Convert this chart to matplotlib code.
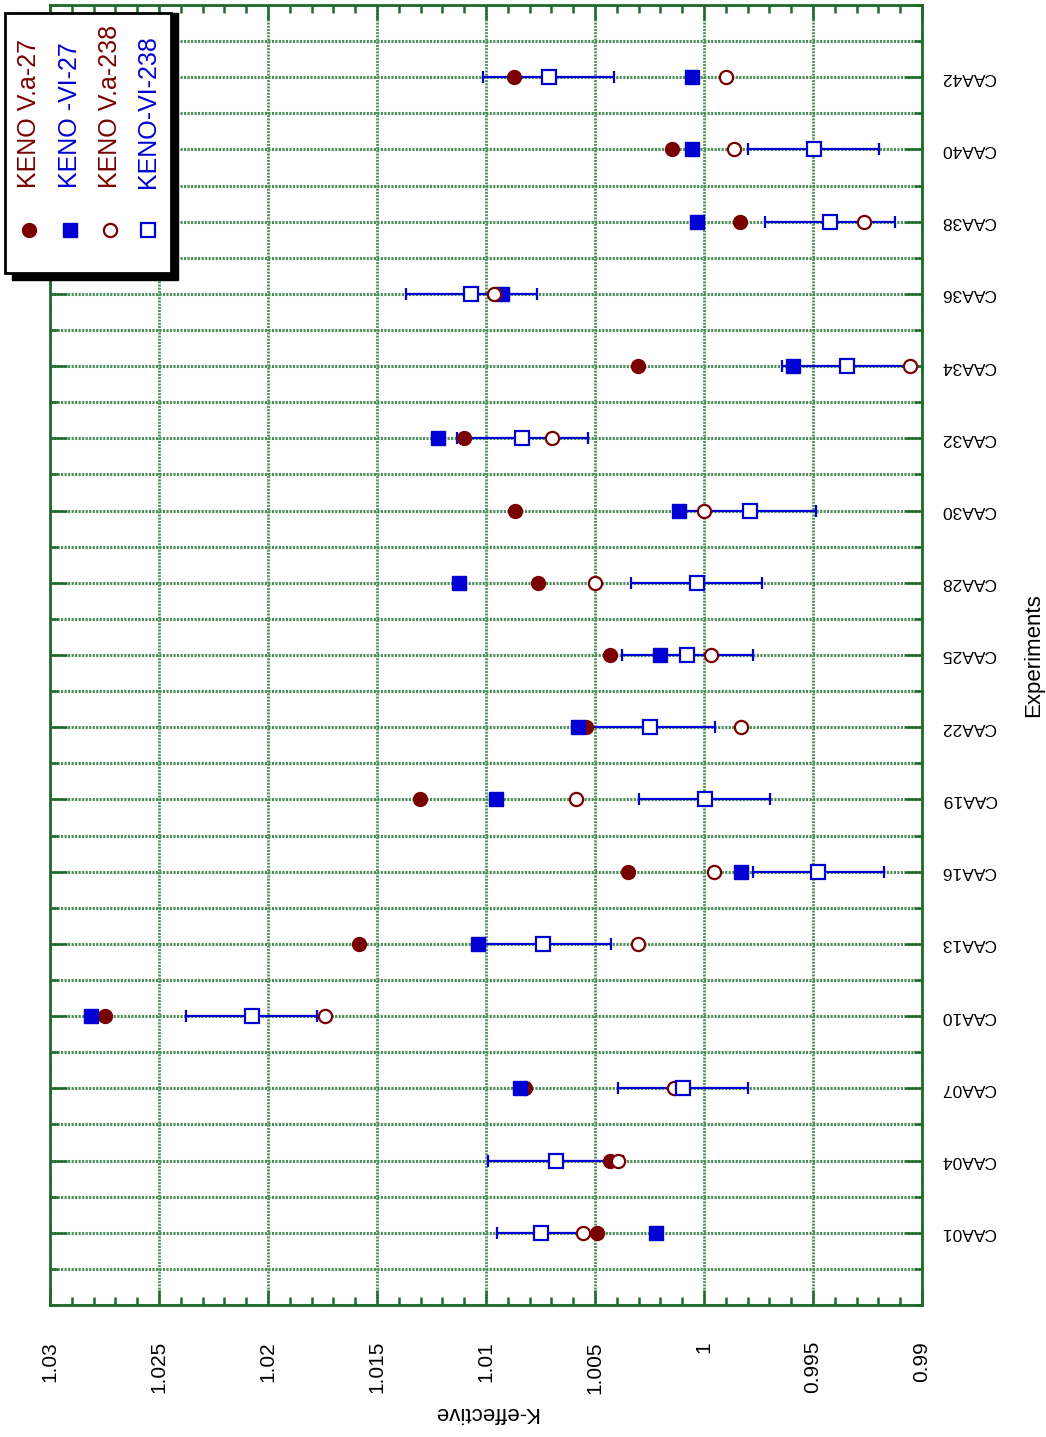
import numpy as np
import matplotlib
matplotlib.use('Agg')
import matplotlib.pyplot as plt
from matplotlib.ticker import MultipleLocator
from matplotlib.patches import Rectangle
from matplotlib.lines import Line2D

plt.rcParams['font.family'] = ['Liberation Sans', 'DejaVu Sans']

# Experiments (bottom to top in the rotated page)
experiments = ['CAA01', 'CAA04', 'CAA07', 'CAA10', 'CAA13', 'CAA16', 'CAA19', 'CAA22', 'CAA25',
               'CAA28', 'CAA30', 'CAA32', 'CAA34', 'CAA36', 'CAA38', 'CAA40', 'CAA42']

# K-effective values
keno5_27 = [1.00492, 1.00429, 1.00823, 1.02747, 1.01584, 1.00347, 1.01301, 1.00540, 1.00430,
            1.00763, 1.00865, 1.01099, 1.00301, 1.00930, 0.99836, 1.00148, 1.00873]
keno6_27 = [1.00220, np.nan, 1.00844, 1.02810, 1.01037, 0.99829, 1.00954, 1.00577, 1.00202,
            1.01126, 1.00113, 1.01219, 0.99594, 1.00928, 1.00030, 1.00055, 1.00055]
keno5_238 = [1.00557, 1.00394, 1.00137, 1.01738, 1.00302, 0.99956, 1.00585, 0.99829, 0.99967,
             1.00500, 1.00000, 1.00696, 0.99057, 1.00964, 0.99264, 0.99863, 0.99899]
keno6_238 = [1.00748, 1.00681, 1.00096, 1.02074, 1.00738, 0.99476, 0.99997, 1.00249, 1.00077,
             1.00033, 0.99788, 1.00833, 0.99344, 1.01068, 0.99422, 0.99496, 1.00713]
keno6_238_err = [0.0020, 0.0031, 0.0030, 0.0030, 0.0031, 0.0030, 0.0030, 0.0030, 0.0030,
                 0.0030, 0.0030, 0.0030, 0.0030, 0.0030, 0.0030, 0.0030, 0.0030]

k_ticks = [1.03, 1.025, 1.02, 1.015, 1.01, 1.005, 1.0, 0.995, 0.99]
k_labels = ['1.03', '1.025', '1.02', '1.015', '1.01', '1.005', '1', '0.995', '0.99']

legend_names = ['KENO V.a-27', 'KENO -VI-27', 'KENO V.a-238', 'KENO-VI-238']

red = '#7a0000'
blue = '#0000d2'
green = '#1f6b2b'
grid_green = '#4a8f57'

W, H = 1046, 1437
fig = plt.figure(figsize=(W / 100, H / 100), dpi=100)
ax = fig.add_axes([50 / W, 1 - 1305 / H, 872 / W, 1300 / H])

y = np.arange(len(experiments))

# error bars of KENO-VI-238
ax.errorbar(keno6_238, y, xerr=keno6_238_err, fmt='none', ecolor=blue, elinewidth=1.6,
            capsize=4.5, capthick=1.6, zorder=3)
ax.plot(keno5_27, y, 'o', ms=10, color=red, mec=red, ls='none', zorder=4)
ax.plot(keno6_27, y, 's', ms=10.5, color=blue, mec=blue, ls='none', zorder=5)
ax.plot(keno5_238, y, 'o', ms=9.5, mfc='white', mec=red, mew=1.6, ls='none', zorder=6)
ax.plot(keno6_238, y, 's', ms=10, mfc='white', mec=blue, mew=1.6, ls='none', zorder=6)

ax.set_xlim(1.03, 0.99)
ax.set_ylim(-1, 17)

ax.set_xticks(k_ticks)
ax.set_xticklabels(k_labels, rotation=90, fontsize=15)
ax.xaxis.set_minor_locator(MultipleLocator(0.001))
ax.set_yticks(y)
ax.set_yticklabels(experiments, rotation=180, fontsize=12.5, va='center')
ax.yaxis.set_minor_locator(MultipleLocator(0.5))

ax.tick_params(axis='both', which='both', direction='in', color=green, width=1.8,
               top=True, bottom=True, left=True, right=True,
               labelleft=False, labelright=True)
ax.tick_params(axis='x', which='major', length=11, pad=26)
ax.tick_params(axis='x', which='minor', length=6)
ax.tick_params(axis='y', which='major', length=12, pad=14)
ax.tick_params(axis='y', which='minor', length=6)

ax.grid(True, axis='x', which='major', color=grid_green, lw=2.0, ls=(0, (0.7, 0.45)), zorder=1)
ax.grid(True, axis='y', which='both', color=grid_green, lw=2.2, ls=(0, (0.7, 0.45)), zorder=1)
ax.set_axisbelow(True)

for s in ax.spines.values():
    s.set_color(green)
    s.set_linewidth(2)

ax.yaxis.set_label_position('right')
ax.set_ylabel('Experiments', fontsize=16, rotation=90, labelpad=19)
ax.set_xlabel('K-effective', fontsize=16, rotation=180, labelpad=6)

# legend, drawn by hand so the entries can be rotated with the page
def fx(px):
    return px / W

def fy(py):
    return 1 - py / H

fig.add_artist(Rectangle((fx(12), fy(280)), fx(166), 267 / H, transform=fig.transFigure,
                         facecolor='black', edgecolor='black', zorder=10))
fig.add_artist(Rectangle((fx(5), fy(273)), fx(166), 260 / H, transform=fig.transFigure,
                         facecolor='white', edgecolor='black', lw=2, zorder=11))

leg_x = [29, 70, 110, 148]
leg_style = [
    dict(marker='o', ms=10, color=red, mec=red),
    dict(marker='s', ms=10.5, color=blue, mec=blue),
    dict(marker='o', ms=9.5, mfc='white', mec=red, mew=1.6),
    dict(marker='s', ms=10, mfc='white', mec=blue, mew=1.6),
]
leg_colors = [red, blue, red, blue]
for px, name, st, c in zip(leg_x, legend_names, leg_style, leg_colors):
    fig.add_artist(Line2D([fx(px)], [fy(230)], transform=fig.transFigure, ls='none',
                          zorder=12, **st))
    fig.text(fx(px), fy(188), name, rotation=90, ha='center', va='bottom',
             fontsize=18, color=c, zorder=12)

fig.savefig('out.png', dpi=100)
